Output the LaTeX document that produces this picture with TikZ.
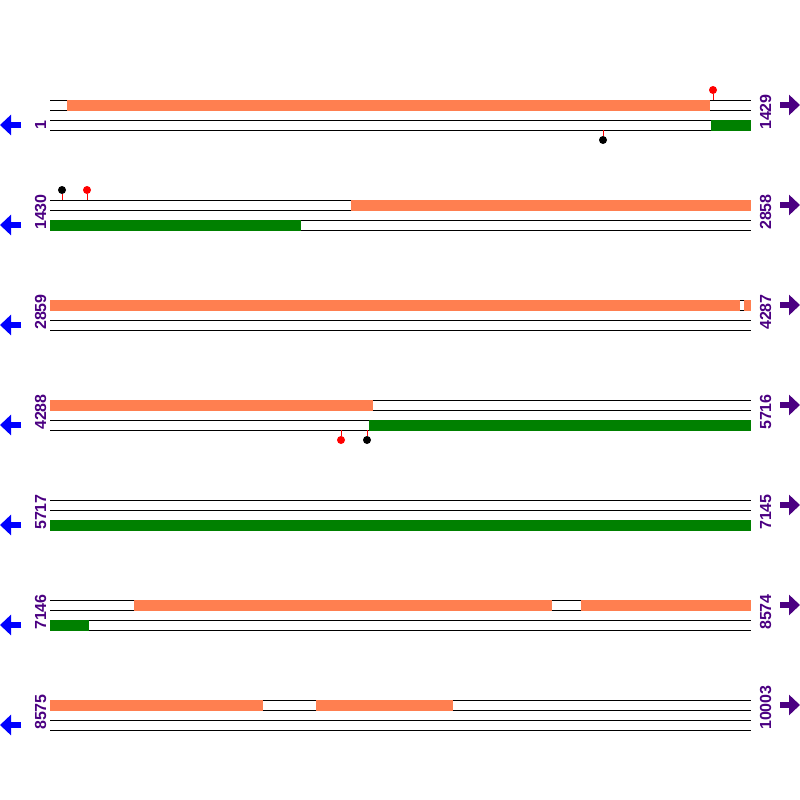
\documentclass[tikz,border=0pt]{standalone}
\usepackage{fontspec}
\setmainfont{Liberation Sans}
\usetikzlibrary{arrows.meta}
\definecolor{fwdcolor}{HTML}{FF7F50}
\definecolor{revcolor}{HTML}{008000}
\definecolor{poscolor}{HTML}{4B0082}
\tikzstyle{strand}=[line width=1pt]
\tikzstyle{fwdbar}=[fill=fwdcolor]
\tikzstyle{revbar}=[fill=revcolor]
\tikzstyle{poslabel}=[rotate=90, anchor=base west, inner sep=0pt, text=poscolor, font=\fontsize{16}{16}\selectfont\bfseries]
\tikzstyle{site}=[circle, inner sep=0pt, minimum size=8pt]
\tikzstyle{stick}=[red, line width=1pt]
\tikzstyle{leftarrow}=[blue, line width=6pt, -{Triangle[length=11pt,width=20pt]}]
\tikzstyle{rightarrow}=[poscolor, line width=6pt, -{Triangle[length=11pt,width=20pt]}]

\begin{document}
\begin{tikzpicture}[x=1pt, y=-1pt]
  \useasboundingbox[fill=white] (0,0) rectangle (800,800);

  \foreach \r/\lo/\hi in {0/1/1429, 1/1430/2858, 2/2859/4287, 3/4288/5716,
                          4/5717/7145, 5/7146/8574, 6/8575/10003} {
    \pgfmathsetmacro\y{100+100*\r}
    \foreach \d in {0,10,20,30}
      \draw[strand] (50,\y+\d) -- (751,\y+\d);
    \node[poslabel] (lo\r) at (46,\y+30) {\lo};
    \node[poslabel] (hi\r) at (771,\y+30) {\hi};
    \draw[leftarrow] (21,\y+25) -- (0,\y+25);
    \draw[rightarrow] (780,\y+5) -- (800,\y+5);
  }

  % row 1
  \path[fwdbar] (67,99.5) rectangle (710,110.5);
  \path[revbar] (711,119.5) rectangle (751,130.5);
  \node[site, fill=red]   (s1) at (713,90) {};
  \node[site, fill=black] (s2) at (603,140) {};
  % row 2
  \path[fwdbar] (351,199.5) rectangle (751,210.5);
  \path[revbar] (50,219.5) rectangle (301,230.5);
  \node[site, fill=black] (s3) at (62,190) {};
  \node[site, fill=red]   (s4) at (87,190) {};
  % row 3
  \path[fwdbar] (50,299.5) rectangle (740,310.5);
  \path[fwdbar] (744,299.5) rectangle (751,310.5);
  % row 4
  \path[fwdbar] (50,399.5) rectangle (373,410.5);
  \path[revbar] (369,419.5) rectangle (751,430.5);
  \node[site, fill=red]   (s5) at (341,440) {};
  \node[site, fill=black] (s6) at (367,440) {};
  % row 5
  \path[revbar] (50,519.5) rectangle (751,530.5);
  % row 6
  \path[fwdbar] (134,599.5) rectangle (552,610.5);
  \path[fwdbar] (581,599.5) rectangle (751,610.5);
  \path[revbar] (50,619.5) rectangle (89,630.5);
  % row 7
  \path[fwdbar] (50,699.5) rectangle (263,710.5);
  \path[fwdbar] (316,699.5) rectangle (453,710.5);

  \foreach \s/\t in {s1/100, s2/130, s3/200, s4/200, s5/430, s6/430}
    \draw[stick] (\s) -- (\s |- 0,\t);
\end{tikzpicture}
\end{document}
